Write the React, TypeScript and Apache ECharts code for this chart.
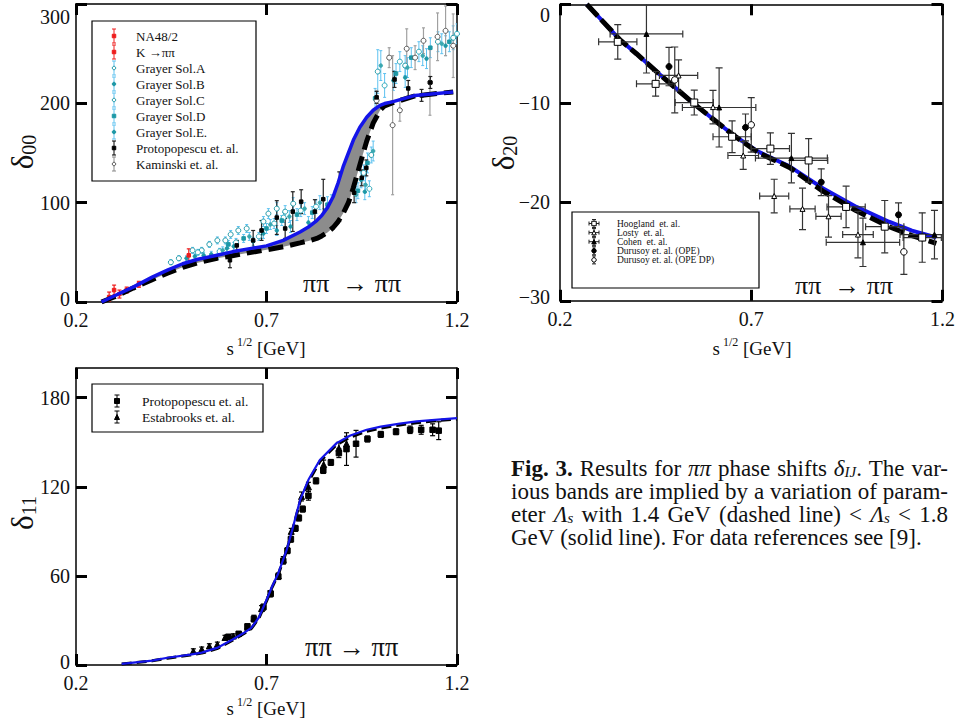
import React, { useEffect, useRef } from "react";
import * as echarts from "echarts";

const FONT = '"Liberation Serif", "Times New Roman", Times, serif';
const INK = "#111";

// ---------- tick values ----------
const xTicks = [0.2, 0.7, 1.2];
const yTicks00 = [0, 100, 200, 300];
const yTicks20 = [-30, -20, -10, 0];
const yTicks11 = [0, 60, 120, 180];

// ---------- delta_00 curves ----------
const xs00 = [0.267, 0.3, 0.35, 0.4, 0.44, 0.48, 0.52, 0.57, 0.61, 0.66, 0.7, 0.744, 0.788, 0.81, 0.832, 0.845, 0.86, 0.875, 0.888, 0.901, 0.915, 0.928, 0.945, 0.963, 0.98, 0.998, 1.01, 1.03, 1.09, 1.19];
const solid00 = [0, 6, 15, 25, 32, 38.5, 43, 47, 50.5, 54, 56.5, 62, 70.5, 75.5, 82, 87, 95, 106, 120, 136, 150, 163, 176, 186, 193, 198, 199.8, 201.5, 208, 211.5];
const dashed00 = [0, 5, 14, 22.5, 29, 35, 39.5, 44, 46.5, 50, 52.5, 55.6, 59.5, 61.5, 64, 66.5, 70, 75, 81, 89, 100, 115, 138, 162, 180, 193, 197.5, 200.5, 207.5, 211.5];

// ---------- delta_00 data: [x, y, xerr, yerr] ----------
const na48 = [[0.287, 5, 0, 5], [0.3, 12, 0, 5], [0.314, 8, 0, 4], [0.333, 12, 0, 3], [0.365, 17.8, 0, 3]];
const kpipi = [[0.496, 47, 0, 6.5]];
const grayerA = [[0.449, 40, 0, 2.5], [0.47, 44, 0, 2.5], [0.506, 52, 0, 3], [0.53, 52, 0, 3], [0.55, 58, 0, 3], [0.571, 62, 0, 3.5], [0.592, 62, 0, 3.5], [0.606, 68, 0, 4], [0.626, 72, 0, 4], [0.648, 74, 0, 4], [0.692, 81, 0, 5], [0.705, 89, 0, 5], [0.727, 94, 0, 6], [0.749, 91, 0, 6], [0.77, 99, 0, 6], [0.975, 148, 0, 8], [0.992, 232, 0, 22], [1.064, 238, 0, 10], [1.15, 262, 0, 10], [1.19, 266, 0, 12]];
const grayerB = [[0.49, 44, 0, 2.5], [0.512, 46, 0, 2.5], [0.535, 47, 0, 3], [0.555, 48, 0, 3], [0.572, 46, 0, 3], [0.596, 54, 0, 3.5], [0.614, 56, 0, 4], [0.665, 61, 0, 4], [0.692, 69, 0, 5], [0.727, 72, 0, 5], [0.763, 76, 0, 6], [0.81, 80, 0, 6], [0.85, 86, 0, 8], [0.948, 123, 0, 8], [0.958, 111, 0, 8], [1.033, 223, 0, 10], [1.064, 226, 0, 10], [1.12, 245, 0, 10], [1.17, 258, 0, 10]];
const grayerC = [[0.52, 50, 0, 3], [0.577, 51, 0, 3], [0.62, 60, 0, 4], [0.68, 66, 0, 4], [0.72, 79, 0, 5], [0.745, 85, 0, 5], [0.79, 92, 0, 6], [0.83, 96, 0, 7], [0.87, 100, 0, 8], [0.955, 130, 0, 8], [0.97, 114, 0, 8], [1.01, 218, 0, 12], [1.05, 242, 0, 10], [1.1, 252, 0, 10], [1.2, 270, 0, 10]];
const grayerD = [[0.6, 58, 0, 4], [0.64, 64, 0, 4], [0.7, 74, 0, 5], [0.74, 82, 0, 5], [0.78, 88, 0, 6], [0.82, 90, 0, 6], [0.86, 98, 0, 8], [0.94, 112, 0, 8], [0.965, 140, 0, 10], [0.985, 205, 0, 10], [1.04, 230, 0, 10], [1.08, 246, 0, 10], [1.13, 256, 0, 10], [1.18, 262, 0, 10]];
const grayerE = [[0.585, 52, 0, 3.5], [0.655, 66, 0, 4], [0.71, 78, 0, 5], [0.76, 86, 0, 6], [0.8, 94, 0, 6], [0.84, 100, 0, 7], [0.88, 104, 0, 8], [0.935, 108, 0, 8], [0.96, 118, 0, 8], [0.98, 152, 0, 10], [1.0, 238, 0, 15], [1.07, 236, 0, 10], [1.11, 248, 0, 10], [1.16, 260, 0, 10]];
const proto00 = [[0.604, 42, 0, 7.5], [0.622, 57, 0, 5], [0.665, 62, 0, 10], [0.687, 72, 0, 10], [0.727, 85, 0, 17], [0.749, 74, 0, 10], [0.769, 91, 0, 20], [0.791, 101, 0, 12], [0.827, 91, 0, 12], [0.849, 103.5, 0, 20], [0.891, 106, 0, 25], [0.91, 116, 0, 10], [0.93, 110, 0, 10], [0.95, 125, 0, 8], [0.962, 135, 0, 8], [0.989, 206, 0, 6], [1.036, 224, 0, 8], [1.072, 215, 0, 8], [1.107, 208, 0, 6], [1.13, 221, 0, 6]];
const kaminski = [[0.989, 203, 0, 10], [1.022, 246, 0, 10], [1.031, 178, 0, 70], [1.05, 193, 0, 11], [1.068, 255, 0, 20], [1.09, 246, 0, 12], [1.112, 263, 0, 13], [1.129, 221, 0, 33], [1.149, 267, 0, 24], [1.17, 273, 0, 25], [1.19, 258, 0, 32]];

// ---------- delta_20 ----------
const xs20 = [0.27, 0.304, 0.357, 0.4, 0.461, 0.5, 0.548, 0.6, 0.652, 0.718, 0.8, 0.887, 0.975, 1.06, 1.12, 1.184];
const solid20 = [0, -1.4, -3.6, -5.0, -7.1, -8.4, -10.0, -11.6, -13.2, -14.9, -16.4, -18.6, -20.5, -22.0, -22.9, -23.6];
const dashed20 = [0, -1.4, -3.6, -5.0, -7.1, -8.4, -10.0, -11.6, -13.2, -15.0, -16.5, -18.9, -20.9, -22.5, -23.4, -24.2];
const hoogland = [[0.351, -3.8, 0.05, 1.75], [0.45, -8.05, 0.05, 1.25], [0.551, -9.94, 0.05, 1.26], [0.65, -13.4, 0.05, 1.6], [0.75, -14.6, 0.05, 1.6], [0.85, -15.8, 0.05, 2.2], [0.948, -20.5, 0.05, 2.1], [1.049, -22.5, 0.05, 2.65], [1.147, -23.6, 0.05, 2.5]];
const losty = [[0.51, -7.2, 0.05, 1.57], [0.6, -10.4, 0, 1.7], [0.679, -15.3, 0.04, 1.4], [0.76, -19.4, 0.038, 1.7], [0.834, -20.7, 0.033, 2.1], [0.902, -21.45, 0.033, 2.1], [0.979, -23.3, 0.04, 2.35]];
const cohen = [[0.426, -3.0, 0.095, 3.95], [0.616, -10.44, 0.096, 4], [0.805, -15.56, 0.094, 2.5], [0.992, -24.08, 0.096, 2.45], [1.179, -23.3, 0.09, 2.45]];
const durOPE = [[0.485, -6.3, 0, 1.94], [0.685, -12.46, 0, 1.36], [0.883, -18.0, 0, 1.35], [1.085, -21.3, 0, 1.2]];
const durOPEDP = [[0.5, -7.65, 0, 3.33], [0.7, -12.2, 0, 2.75], [1.099, -25.05, 0, 2.27]];

// ---------- delta_11 ----------
const xs11 = [0.32, 0.4, 0.44, 0.5, 0.53, 0.57, 0.61, 0.64, 0.66, 0.68, 0.7, 0.715, 0.731, 0.753, 0.77, 0.788, 0.81, 0.84, 0.884, 0.92, 0.963, 1.0, 1.05, 1.094, 1.15, 1.2];
const solid11 = [0.7, 3, 4.9, 7, 8.3, 11.5, 17, 21.5, 25, 32, 43.8, 53, 61.8, 77.5, 93.2, 111, 124.7, 138, 149.4, 154.5, 158.4, 160.5, 162.5, 164, 165.3, 166.3];
const dashed11 = [0.6, 2.8, 4.6, 6.7, 8, 11, 16.5, 21, 24.5, 31.5, 43, 52.5, 61, 77, 92.5, 110, 123.5, 137, 148.4, 153.5, 157.4, 159.6, 161.6, 163.2, 164.6, 165.6];
const proto11 = [[0.6, 19, 0, 1.5], [0.627, 21, 0, 1.5], [0.65, 26, 0, 1.5], [0.667, 31, 0, 2], [0.692, 39, 0, 2], [0.711, 48, 0, 2], [0.731, 59.6, 0, 2], [0.744, 70, 0, 2], [0.755, 77, 0, 2], [0.764, 84.7, 0, 2], [0.776, 92, 0, 2], [0.785, 99, 0, 2], [0.795, 105, 0, 2], [0.81, 114, 0, 3], [0.83, 124, 0, 2], [0.849, 131, 0, 2], [0.869, 136.4, 0, 2], [0.89, 142.7, 0, 3], [0.91, 145.4, 0, 11], [0.935, 149, 0, 9], [0.965, 152.2, 0, 2], [1.0, 155.3, 0, 2], [1.04, 157.1, 0, 2], [1.077, 158.4, 0, 2.5], [1.106, 158.4, 0, 3], [1.136, 158.4, 0, 4], [1.152, 157.8, 0, 6]];
const esta11 = [[0.508, 9.4, 0, 1.5], [0.53, 10.6, 0, 1.5], [0.55, 12.8, 0, 1.5], [0.571, 13.9, 0, 1.5], [0.591, 18.5, 0, 1.5], [0.613, 19.5, 0, 1.5], [0.65, 25.5, 0, 2], [0.667, 31.5, 0, 2], [0.687, 38, 0, 2], [0.709, 48, 0, 2], [0.731, 60, 0, 2], [0.744, 71, 0, 2], [0.765, 90, 0, 2], [0.792, 113.5, 0, 3], [0.81, 120, 0, 3], [0.85, 135, 0, 3], [0.89, 146, 0, 4], [0.91, 149, 0, 5]];

// ---------- legends ----------
const legend00 = ["NA48/2", "K \u2192\u03c0\u03c0", "Grayer Sol.A", "Grayer Sol.B", "Grayer Sol.C", "Grayer Sol.D", "Grayer Sol.E.", "Protopopescu et. al.", "Kaminski et. al."];
const legend20 = ["Hoogland  et. al.", "Losty  et. al.", "Cohen  et. al.", "Durusoy et. al. (OPE)", "Durusoy et. al. (OPE DP)"];
const legend11 = ["Protopopescu et. al.", "Estabrooks et. al."];

// ---------- caption (words, each a list of [style, text]) ----------
const captionLines: [string, string][][][] = [
  [[["b", "Fig."]], [["b", "3."]], [["n", "Results"]], [["n", "for"]], [["i", "\u03c0\u03c0"]], [["n", "phase"]], [["n", "shifts"]], [["i", "\u03b4"], ["sub", "IJ"], ["n", "."]], [["n", "The"]], [["n", "var-"]]],
  [[["n", "ious"]], [["n", "bands"]], [["n", "are"]], [["n", "implied"]], [["n", "by"]], [["n", "a"]], [["n", "variation"]], [["n", "of"]], [["n", "param-"]]],
  [[["n", "eter"]], [["i", "\u039b"], ["sub", "s"]], [["n", "with"]], [["n", "1.4"]], [["n", "GeV"]], [["n", "(dashed"]], [["n", "line)"]], [["n", "<"]], [["i", "\u039b"], ["sub", "s"]], [["n", "<"]], [["n", "1.8"]]],
  [[["n", "GeV"]], [["n", "(solid"]], [["n", "line)."]], [["n", "For"]], [["n", "data"]], [["n", "references"]], [["n", "see"]], [["n", "[9]."]]],
];
const captionJustify = [true, true, true, false];

const RED = "#ee1c1c";
const TEAL = "#1d98a6";
const LBLUE = "#5ec2f0";
const BLUE = "#1414e8";

function errSeries(data: number[][], ai: number, color: string, width: number, cap: number, z = 2) {
  return {
    type: "custom",
    xAxisIndex: ai,
    yAxisIndex: ai,
    clip: true,
    silent: true,
    z,
    data,
    renderItem: (_p: any, api: any) => {
      const x = api.value(0), y = api.value(1), ex = api.value(2), ey = api.value(3);
      const c = api.coord([x, y]);
      const st = { stroke: color, lineWidth: width };
      const ch: any[] = [];
      if (ey > 0) {
        const t = api.coord([x, y + ey])[1];
        const b = api.coord([x, y - ey])[1];
        ch.push({ type: "line", shape: { x1: c[0], y1: t, x2: c[0], y2: b }, style: st });
        ch.push({ type: "line", shape: { x1: c[0] - cap, y1: t, x2: c[0] + cap, y2: t }, style: st });
        ch.push({ type: "line", shape: { x1: c[0] - cap, y1: b, x2: c[0] + cap, y2: b }, style: st });
      }
      if (ex > 0) {
        const l = api.coord([x - ex, y])[0];
        const r = api.coord([x + ex, y])[0];
        ch.push({ type: "line", shape: { x1: l, y1: c[1], x2: r, y2: c[1] }, style: st });
        ch.push({ type: "line", shape: { x1: l, y1: c[1] - cap, x2: l, y2: c[1] + cap }, style: st });
        ch.push({ type: "line", shape: { x1: r, y1: c[1] - cap, x2: r, y2: c[1] + cap }, style: st });
      }
      return { type: "group", children: ch };
    },
  };
}

function markSeries(data: number[][], ai: number, symbol: string, size: number, fill: string, stroke: string, z = 3) {
  return {
    type: "scatter",
    xAxisIndex: ai,
    yAxisIndex: ai,
    symbol,
    symbolSize: size,
    silent: true,
    z,
    data: data.map((d) => [d[0], d[1]]),
    itemStyle: { color: fill, borderColor: stroke, borderWidth: 1, opacity: 1 },
  };
}

function lineSeries(xs: number[], ys: number[], ai: number, color: string, width: number, dash: any, z: number) {
  return {
    type: "line",
    xAxisIndex: ai,
    yAxisIndex: ai,
    data: xs.map((x, i) => [x, ys[i]]),
    symbol: "none",
    showSymbol: false,
    silent: true,
    clip: true,
    z,
    lineStyle: { color, width, type: dash },
  };
}

function bandSeries(xs: number[], up: number[], lo: number[], ai: number) {
  return {
    type: "custom",
    xAxisIndex: ai,
    yAxisIndex: ai,
    silent: true,
    clip: true,
    z: 4,
    data: [[xs[0], up[0]]],
    renderItem: (_p: any, api: any) => {
      const pts: number[][] = [];
      xs.forEach((x, i) => pts.push(api.coord([x, up[i]])));
      for (let i = xs.length - 1; i >= 0; i--) pts.push(api.coord([xs[i], lo[i]]));
      return { type: "polygon", shape: { points: pts }, style: { fill: "#8c8c8c", stroke: "none" } };
    },
  };
}

const tickLine = { color: "#000", width: 3 };
const axisLine = { show: true, onZero: false, lineStyle: { color: "#000", width: 1.5 } };

function xAxes(gi: number) {
  const base = {
    type: "value",
    gridIndex: gi,
    min: 0.2,
    max: 1.2,
    axisLine,
    axisTick: { show: true, inside: true, length: 11, customValues: xTicks, lineStyle: tickLine },
    splitLine: { show: false },
  };
  return [
    {
      ...base,
      position: "bottom",
      axisLabel: { customValues: xTicks, margin: 8, fontFamily: FONT, fontSize: 20, color: INK, formatter: (v: number) => v.toFixed(1) },
    },
    { ...base, position: "top", axisLabel: { show: false } },
  ];
}

function yAxes(gi: number, min: number, max: number, ticks: number[], topPad: number, margin: number) {
  const base = {
    type: "value",
    gridIndex: gi,
    min,
    max,
    axisLine,
    axisTick: { show: true, inside: true, length: 11, customValues: ticks, lineStyle: tickLine },
    splitLine: { show: false },
  };
  const fmt = (v: number) => {
    const s = v < 0 ? "\u2212" + String(-v) : String(v);
    if (v === max) return `{t|${s}}`;
    if (v === min) return `{m|${s}}`;
    return s;
  };
  return [
    {
      ...base,
      position: "left",
      axisLabel: {
        customValues: ticks,
        margin,
        fontFamily: FONT,
        fontSize: 20,
        color: INK,
        formatter: fmt,
        rich: {
          t: { fontFamily: FONT, fontSize: 20, color: INK, padding: [topPad, 0, 0, 0] },
          m: { fontFamily: FONT, fontSize: 20, color: INK, padding: [0, 0, 7, 0] },
        },
      },
    },
    { ...base, position: "right", axisLabel: { show: false } },
  ];
}

// ---------- graphic helpers ----------
function gLine(x1: number, y1: number, x2: number, y2: number, stroke: string, lw = 1) {
  return { type: "line", silent: true, z: 20, shape: { x1, y1, x2, y2 }, style: { stroke, lineWidth: lw } };
}
function gErr(x: number, y: number, h: number, cap: number, color: string, w = 0) {
  const out: any[] = [gLine(x, y - h, x, y + h, color), gLine(x - cap, y - h, x + cap, y - h, color), gLine(x - cap, y + h, x + cap, y + h, color)];
  if (w > 0) out.push(gLine(x - w, y, x + w, y, color), gLine(x - w, y - cap, x - w, y + cap, color), gLine(x + w, y - cap, x + w, y + cap, color));
  return out;
}
function gMark(kind: string, x: number, y: number, s: number, fill: string, stroke: string) {
  const style = { fill, stroke, lineWidth: 1 };
  if (kind === "circle") return { type: "circle", silent: true, z: 21, shape: { cx: x, cy: y, r: s / 2 }, style };
  if (kind === "triangle")
    return { type: "polygon", silent: true, z: 21, shape: { points: [[x, y - s / 2], [x + s / 2, y + s / 2], [x - s / 2, y + s / 2]] }, style };
  return { type: "rect", silent: true, z: 21, shape: { x: x - s / 2, y: y - s / 2, width: s, height: s }, style };
}
function gText(x: number, y: number, text: string, size: number, extra: any = {}) {
  return {
    type: "text",
    silent: true,
    z: 22,
    x,
    y,
    style: { text, fontFamily: FONT, fontSize: size, fill: INK, align: "left", verticalAlign: "middle", ...extra },
  };
}

const CAP_SIZE = 23;
const CAP_SUB = 15;
const CAP_LH = 22;
const capStyles: Record<string, any> = {
  n: { fontFamily: FONT, fontSize: CAP_SIZE, fill: INK, lineHeight: CAP_LH },
  b: { fontFamily: FONT, fontSize: CAP_SIZE, fontWeight: "bold", fill: INK, lineHeight: CAP_LH },
  i: { fontFamily: FONT, fontSize: CAP_SIZE, fontStyle: "italic", fill: INK, lineHeight: CAP_LH },
  sub: { fontFamily: FONT, fontSize: CAP_SUB, fontStyle: "italic", fill: INK, verticalAlign: "bottom", lineHeight: 13 },
};
function cssFont(key: string) {
  const s = capStyles[key];
  return `${s.fontStyle || "normal"} ${s.fontWeight || "normal"} ${s.fontSize}px ${FONT}`;
}

function buildCaption(x0: number, x1: number, y0: number, dy: number) {
  const canvas = document.createElement("canvas");
  const ctx = canvas.getContext("2d")!;
  const measure = (key: string, t: string) => {
    ctx.font = cssFont(key);
    return ctx.measureText(t).width;
  };
  const out: any[] = [];
  captionLines.forEach((words, li) => {
    const widths = words.map((w) => w.reduce((a, [k, t]) => a + measure(k, t), 0));
    const total = widths.reduce((a, b) => a + b, 0);
    const natural = measure("n", " ");
    const gap = captionJustify[li] ? (x1 - x0 - total) / (words.length - 1) : natural;
    const rich: Record<string, any> = { ...capStyles, g: { fontFamily: FONT, fontSize: CAP_SIZE, lineHeight: CAP_LH, width: gap } };
    const text = words.map((w) => w.map(([k, t]) => `{${k}|${t}}`).join("")).join("{g| }");
    out.push(gText(x0, y0 + li * dy, text, CAP_SIZE, { rich }));
  });
  return out;
}

function buildGraphic() {
  const g: any[] = [];
  // legend 1
  g.push({ type: "rect", silent: true, z: 19, shape: { x: 92, y: 21, width: 164, height: 160 }, style: { fill: "#fff", stroke: "#000", lineWidth: 1.2 } });
  const l1 = [
    { bar: RED, kind: "rect", fill: RED, stroke: RED },
    { bar: RED, kind: "rect", fill: RED, stroke: RED },
    { bar: LBLUE, kind: "circle", fill: "#fff", stroke: TEAL },
    { bar: LBLUE, kind: "circle", fill: TEAL, stroke: TEAL },
    { bar: LBLUE, kind: "circle", fill: "#fff", stroke: TEAL },
    { bar: LBLUE, kind: "rect", fill: TEAL, stroke: TEAL },
    { bar: LBLUE, kind: "circle", fill: TEAL, stroke: TEAL },
    { bar: "#000", kind: "rect", fill: "#000", stroke: "#000" },
    { bar: "#888", kind: "circle", fill: "#fff", stroke: "#555" },
  ];
  legend00.forEach((t, i) => {
    const y = 36 + i * 16;
    g.push(...gErr(114, y, 7, 2, l1[i].bar));
    g.push(gMark(l1[i].kind, 114, y, 3.5, l1[i].fill, l1[i].stroke));
    g.push(gText(136, y, t, 13));
  });
  // legend 2
  g.push({ type: "rect", silent: true, z: 19, shape: { x: 572, y: 212, width: 187, height: 76 }, style: { fill: "#fff", stroke: "#000", lineWidth: 1.2 } });
  const l2 = [
    { w: 5, kind: "rect", fill: "#fff" },
    { w: 5, kind: "triangle", fill: "#fff" },
    { w: 5, kind: "triangle", fill: "#000" },
    { w: 0, kind: "circle", fill: "#000" },
    { w: 0, kind: "circle", fill: "#fff" },
  ];
  legend20.forEach((t, i) => {
    const y = 223.5 + i * 9.1;
    g.push(...gErr(594, y, 4, 2, "#222", l2[i].w));
    g.push(gMark(l2[i].kind, 594, y, 4.5, l2[i].fill, "#000"));
    g.push(gText(617, y, t, 9.5));
  });
  // legend 3
  g.push({ type: "rect", silent: true, z: 19, shape: { x: 92, y: 384, width: 171, height: 48 }, style: { fill: "#fff", stroke: "#000", lineWidth: 1.2 } });
  legend11.forEach((t, i) => {
    const y = 401 + i * 16;
    g.push(...gErr(117, y, 6, 2.5, "#000"));
    g.push(gMark(i === 0 ? "rect" : "triangle", 117, y, 5, "#000", "#000"));
    g.push(gText(142, y, t, 13.5));
  });
  // reaction labels
  g.push(gText(303, 283, "\u03c0\u03c0  \u2192 \u03c0\u03c0", 26));
  g.push(gText(795, 285, "\u03c0\u03c0  \u2192 \u03c0\u03c0", 26));
  g.push(gText(305, 647, "\u03c0\u03c0 \u2192 \u03c0\u03c0", 26.5));
  // axis names
  const xr = {
    a: { fontFamily: FONT, fontSize: 19, fill: INK, lineHeight: 24 },
    b: { fontFamily: FONT, fontSize: 12, fill: INK, verticalAlign: "top", lineHeight: 12 },
  };
  const xname = "{a|s}{b| 1/2}{a| [GeV]}";
  g.push(gText(266, 348, xname, 19, { align: "center", rich: xr }));
  g.push(gText(752, 348, xname, 19, { align: "center", rich: xr }));
  g.push(gText(266, 708, xname, 19, { align: "center", rich: xr }));
  const yr = {
    d: { fontFamily: FONT, fontSize: 31, fill: INK, lineHeight: 34 },
    s: { fontFamily: FONT, fontSize: 20, fill: INK, verticalAlign: "bottom", lineHeight: 24 },
  };
  const yname = (sub: string, x: number, y: number) => ({
    ...gText(x, y, `{d|\u03b4}{s|${sub}}`, 31, { align: "center", rich: yr }),
    rotation: Math.PI / 2,
  });
  g.push(yname("00", 22, 152));
  g.push(yname("20", 503, 153));
  g.push(yname("11", 22, 513));
  // caption
  g.push(...buildCaption(511, 948, 468, 23.2));
  return g;
}

function buildOption() {
  const series: any[] = [];
  // ---- panel 1 (axes 0) ----
  [grayerA, grayerB, grayerC, grayerD, grayerE].forEach((d) => series.push(errSeries(d, 0, LBLUE, 1, 1.5, 2)));
  series.push(errSeries(kaminski, 0, "#a0a0a0", 1.2, 1.5, 2));
  series.push(errSeries(proto00, 0, "#222", 1.2, 2, 2));
  series.push(errSeries(na48, 0, RED, 1.2, 2, 2));
  series.push(errSeries(kpipi, 0, RED, 1.2, 2, 2));
  series.push(markSeries(grayerA, 0, "circle", 5, "#fff", TEAL));
  series.push(markSeries(grayerB, 0, "circle", 3.5, TEAL, TEAL));
  series.push(markSeries(grayerC, 0, "circle", 5, "#fff", "#2aa7b8"));
  series.push(markSeries(grayerD, 0, "rect", 3.5, TEAL, TEAL));
  series.push(markSeries(grayerE, 0, "circle", 3.5, "#3aa8b0", "#3aa8b0"));
  series.push(markSeries(kaminski, 0, "circle", 5, "#fff", "#555"));
  series.push(markSeries(proto00, 0, "rect", 3.5, "#000", "#000"));
  series.push(markSeries(na48, 0, "rect", 3.5, RED, RED));
  series.push(markSeries(kpipi, 0, "rect", 3.5, RED, RED));
  series.push(bandSeries(xs00, solid00, dashed00, 0));
  series.push(lineSeries(xs00, dashed00, 0, "#000", 5, [15, 7], 5));
  series.push(lineSeries(xs00, solid00, 0, BLUE, 3.5, "solid", 6));

  // ---- panel 2 (axes 2) ----
  series.push(lineSeries(xs20, solid20, 2, BLUE, 4, "solid", 5));
  series.push(lineSeries(xs20, dashed20, 2, "#000", 5, [16, 5], 6));
  [hoogland, losty, cohen, durOPE, durOPEDP].forEach((d) => series.push(errSeries(d, 2, "#333", 1.2, 3.5, 7)));
  series.push(markSeries(hoogland, 2, "rect", 7, "#fff", "#000", 8));
  series.push(markSeries(losty, 2, "triangle", 5, "#fff", "#000", 8));
  series.push(markSeries(cohen, 2, "triangle", 5, "#000", "#000", 8));
  series.push(markSeries(durOPE, 2, "circle", 6, "#000", "#000", 8));
  series.push(markSeries(durOPEDP, 2, "circle", 6.5, "#fff", "#000", 8));

  // ---- panel 3 (axes 4) ----
  series.push(errSeries(esta11, 4, "#000", 1.2, 2.5, 2));
  series.push(errSeries(proto11, 4, "#000", 1.2, 2.5, 2));
  series.push(markSeries(esta11, 4, "triangle", 6, "#000", "#000"));
  series.push(markSeries(proto11, 4, "rect", 5.5, "#000", "#000"));
  series.push(lineSeries(xs11, dashed11, 4, "#000", 3, [10, 5], 5));
  series.push(lineSeries(xs11, solid11, 4, BLUE, 2.2, "solid", 6));

  return {
    animation: false,
    backgroundColor: "#fff",
    textStyle: { fontFamily: FONT },
    grid: [
      { left: 76, top: 4, width: 381, height: 298 },
      { left: 560, top: 4.3, width: 383, height: 296.5 },
      { left: 76, top: 368, width: 381, height: 297 },
    ],
    xAxis: [...xAxes(0), ...xAxes(1), ...xAxes(2)],
    yAxis: [
      ...yAxes(0, 0, 300, yTicks00, 26, 6),
      ...yAxes(1, -30, 0, yTicks20, 22, 10),
      ...yAxes(2, 0, 200, yTicks11, 0, 6),
    ],
    series,
    graphic: buildGraphic(),
  };
}

export default function App() {
  const ref = useRef<HTMLDivElement>(null);
  useEffect(() => {
    if (!ref.current) return;
    const chart = echarts.init(ref.current, undefined, { renderer: "svg" });
    chart.setOption(buildOption() as any);
    return () => chart.dispose();
  }, []);
  return <div ref={ref} style={{ position: "fixed", left: 0, top: 0, width: 958, height: 727, background: "#fff" }} />;
}
